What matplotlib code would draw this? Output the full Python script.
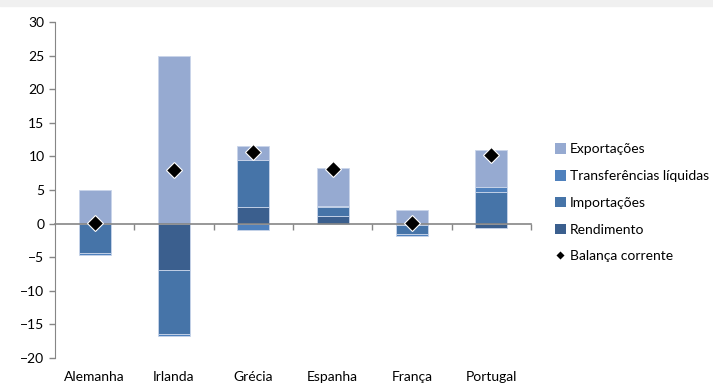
import numpy as np
import matplotlib.pyplot as plt
from matplotlib.patches import Patch, Rectangle
from matplotlib.lines import Line2D

plt.rcParams['font.family'] = ['Lato', 'DejaVu Sans']

paises = ["Alemanha", "Irlanda", "Grécia", "Espanha", "França", "Portugal"]

# componentes da balança corrente (pontos percentuais)
rendimento = [0.0, -6.9, 2.5, 1.1, -0.2, -0.7]
importacoes = [-4.4, -9.5, 6.9, 1.3, -1.3, 4.65]
transferencias = [-0.3, -0.3, -0.9, 0.2, -0.3, 0.75]
exportacoes = [5.0, 25.0, 2.2, 5.7, 2.0, 5.55]
balanca = [0.15, 8.0, 10.6, 8.1, 0.05, 10.15]

series = [
    ("Rendimento", rendimento, "#3b5f8e"),
    ("Importações", importacoes, "#4674a8"),
    ("Transferências líquidas", transferencias, "#4f81bd"),
    ("Exportações", exportacoes, "#96aad1"),
]

fig = plt.figure(figsize=(7.13, 3.92), dpi=100)
fig.patches.append(Rectangle((0, 0.985), 1, 0.015, transform=fig.transFigure,
                             color="#f0f0f0", zorder=0))
ax = fig.add_axes([0.0771, 0.0867, 0.6676, 0.8572])

x = np.arange(len(paises))
pos_base = np.zeros(len(paises))
neg_base = np.zeros(len(paises))
for nome, vals, cor in series:
    v = np.array(vals)
    base = np.where(v >= 0, pos_base, neg_base)
    ax.bar(x, v, width=0.4, bottom=base, color=cor, edgecolor="#c9d5ea",
           linewidth=0.6, zorder=2)
    pos_base += np.where(v >= 0, v, 0)
    neg_base += np.where(v < 0, v, 0)

ax.plot(x, balanca, linestyle="none", marker="D", markersize=8,
        markerfacecolor="black", markeredgecolor="white", markeredgewidth=0.8,
        zorder=4)

ax.set_xlim(-0.5, len(paises) - 0.5)
ax.set_ylim(-20, 30)
ax.set_yticks(np.arange(-20, 31, 5))
ax.tick_params(axis="y", labelsize=10, color="#868686", length=4, width=1)

ax.spines["top"].set_visible(False)
ax.spines["right"].set_visible(False)
ax.spines["left"].set_color("#868686")
ax.spines["bottom"].set_position(("data", 0))
ax.spines["bottom"].set_color("#868686")
ax.spines["bottom"].set_linewidth(1.2)
ax.spines["bottom"].set_zorder(3)

ax.set_xticks(x)
ax.set_xticklabels(paises)
ax.set_xticks(np.arange(0.5, len(paises), 1), minor=True)
ax.tick_params(axis="x", which="major", length=0, pad=106, labelsize=10)
ax.tick_params(axis="x", which="minor", length=4, width=1, color="#868686")

handles = [
    Patch(facecolor="#96aad1", label="Exportações"),
    Patch(facecolor="#4f81bd", label="Transferências líquidas"),
    Patch(facecolor="#4674a8", label="Importações"),
    Patch(facecolor="#3b5f8e", label="Rendimento"),
    Line2D([], [], linestyle="none", marker="D", markersize=5,
           markerfacecolor="black", markeredgecolor="white",
           label="Balança corrente"),
]
fig.legend(handles=handles, loc="upper left", bbox_to_anchor=(0.768, 0.652),
           frameon=False, fontsize=10, labelspacing=1.05, handlelength=0.8,
           handleheight=0.8, handletextpad=0.3, borderpad=0)

fig.savefig("out.png", dpi=100, facecolor="white")
